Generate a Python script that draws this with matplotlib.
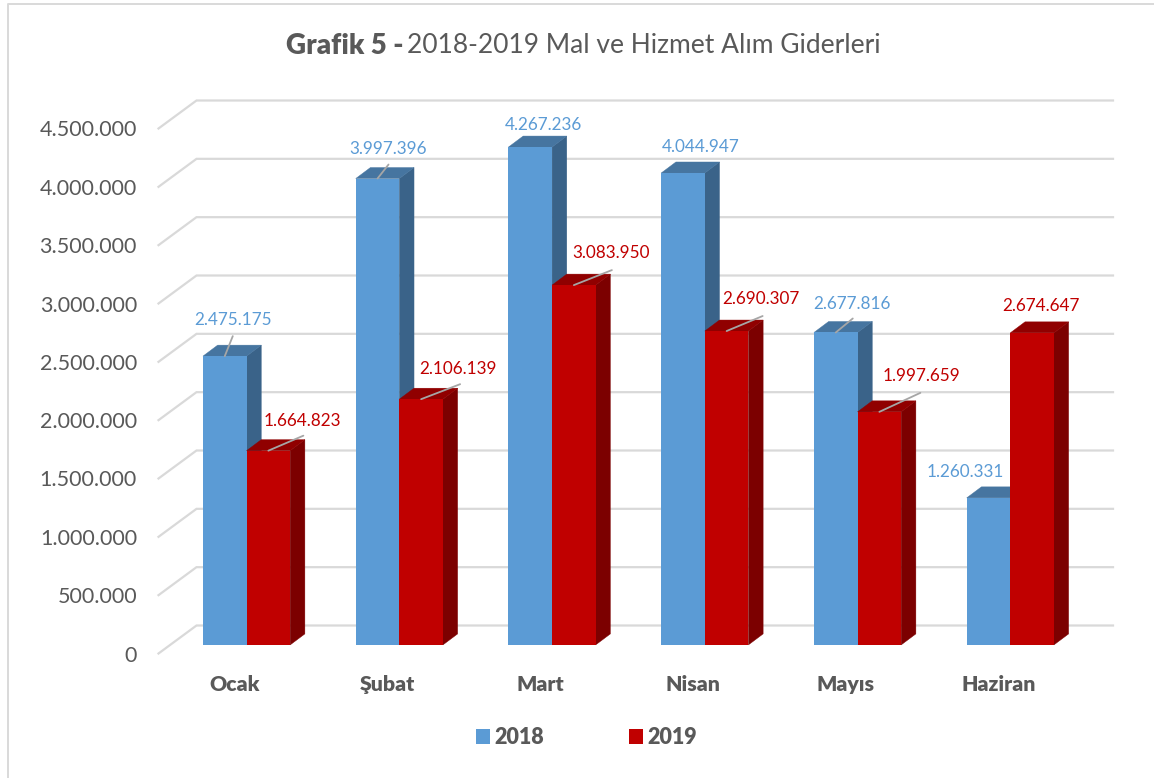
import matplotlib
matplotlib.use("Agg")
import matplotlib.pyplot as plt
from matplotlib.patches import Patch, Polygon

plt.rcParams["font.family"] = ["Lato", "DejaVu Sans"]

# --- Data ---
months = ["Ocak", "Şubat", "Mart", "Nisan", "Mayıs", "Haziran"]
values_2018 = [2475175, 3997396, 4267236, 4044947, 2677816, 1260331]
values_2019 = [1664823, 2106139, 3083950, 2690307, 1997659, 2674647]
y_ticks = [0, 500000, 1000000, 1500000, 2000000, 2500000, 3000000, 3500000, 4000000, 4500000]

# --- Layout (pixels of the 1154x778 picture) ---
W, H = 1154, 778
AX_L, AX_R, AX_TOP, AX_BOTTOM = 158.5, 1075.0, 128.5, 653.5
# label offset from the top centre of each bar
label_off_2018 = [(8, 36), (11, 30), (13, 22), (18, 26), (16, 28), (-23, 26)]
label_off_2019 = [(34, 30), (37, 30), (37, 32), (34, 32), (42, 36), (9, 27)]
# leader line end relative to the same point (None = no line)
leader_2018 = [(8, 20), (11, 14), None, None, (17, 14), None]
leader_2019 = [(35, 15), (39, 15), (38, 15), (36, 15), (41, 19), None]

GREY = "#595959"
GRID = "#D9D9D9"
BLUE, BLUE_TOP, BLUE_SIDE = "#5B9BD5", "#4675A0", "#3A6389"
RED, RED_TOP, RED_SIDE = "#C00000", "#900000", "#7C0000"
BLUE_TEXT, RED_TEXT = "#5B9BD5", "#C00000"

fig = plt.figure(figsize=(W / 100, H / 100), dpi=100)
ax = fig.add_axes([AX_L / W, 1 - AX_BOTTOM / H, (AX_R - AX_L) / W, (AX_BOTTOM - AX_TOP) / H])
ax.set_xlim(0, 6)
ax.set_ylim(0, 4500000)
ax.patch.set_alpha(0)
for s in ax.spines.values():
    s.set_visible(False)

# pixel -> data sizes
px_x = 6 / (AX_R - AX_L)
px_y = 4500000 / (AX_BOTTOM - AX_TOP)


def dx(p):
    return p * px_x


def dy(p):
    return p * px_y


# --- Axis text ---
ax.set_yticks(y_ticks)
ax.set_yticklabels([f"{v:,}".replace(",", ".") for v in y_ticks], fontsize=15.5, color=GREY)
ax.set_xticks([i + 0.5 for i in range(6)])
ax.set_xticklabels(months, fontsize=15.3, fontweight="heavy", color=GREY)
ax.tick_params(axis="y", length=0, pad=15.5)
ax.tick_params(axis="x", length=0, pad=15.7)

# --- Walls: slanted floor part plus back line ---
wall_dx, wall_dy = dx(38), dy(28)
for v in y_ticks:
    ax.plot([0, wall_dx, 6 + wall_dx], [v, v + wall_dy, v + wall_dy], color=GRID, lw=1.6,
            clip_on=False, zorder=1, solid_joinstyle="miter")

# --- Bars ---
bar_w = dx(43.6)
inset_x, inset_y = dx(11.7), dy(8.6)
depth_x, depth_y = dx(14.7), dy(11)


def draw_series(values, left_shift, face, top, side, z):
    for i, v in enumerate(values):
        x0 = i + 0.5 + inset_x + left_shift
        x1 = x0 + bar_w
        y0 = inset_y
        y1 = inset_y + v
        ax.add_patch(Polygon([(x1, y0), (x1 + depth_x, y0 + depth_y), (x1 + depth_x, y1 + depth_y), (x1, y1)],
                             facecolor=side, edgecolor=side, lw=0.3, clip_on=False, zorder=z))
        ax.add_patch(Polygon([(x0, y1), (x0 + depth_x, y1 + depth_y), (x1 + depth_x, y1 + depth_y), (x1, y1)],
                             facecolor=top, edgecolor=top, lw=0.3, clip_on=False, zorder=z))
        ax.bar(x0, v, width=bar_w, bottom=y0, align="edge", color=face, zorder=z + 0.1, clip_on=False)


draw_series(values_2018, -bar_w, BLUE, BLUE_TOP, BLUE_SIDE, 2)
draw_series(values_2019, 0, RED, RED_TOP, RED_SIDE, 3)


# --- Value labels and leader lines ---
def draw_labels(values, left_shift, offsets, leaders, color):
    for i, v in enumerate(values):
        x = i + 0.5 + inset_x + left_shift + bar_w / 2
        y = inset_y + v
        txt = f"{v:,}".replace(",", ".")
        ax.annotate(txt, xy=(x, y), xytext=offsets[i], textcoords="offset pixels", ha="center", va="center",
                    fontsize=12.3, color=color, zorder=6, annotation_clip=False)
        if leaders[i] is not None:
            ax.annotate("", xy=(x, y), xytext=leaders[i], textcoords="offset pixels", annotation_clip=False,
                        arrowprops=dict(arrowstyle="-", color="#A6A6A6", lw=1.3, shrinkA=0, shrinkB=0), zorder=5)


draw_labels(values_2018, -bar_w, label_off_2018, leader_2018, BLUE_TEXT)
draw_labels(values_2019, 0, label_off_2019, leader_2019, RED_TEXT)

# --- Title ---
fig.text(404 / W, 1 - 45.5 / H, "Grafik 5 -", ha="right", va="center", fontsize=20, fontweight="heavy", color=GREY)
fig.text(407 / W, 1 - 45.5 / H, "2018-2019 Mal ve Hizmet Alım Giderleri", ha="left", va="center", fontsize=19, color=GREY)

# --- Legend ---
handles = [Patch(facecolor=BLUE, label="2018"), Patch(facecolor=RED, label="2019")]
fig.legend(handles=handles, ncols=2, loc="center", bbox_to_anchor=(586.5 / W, 1 - 737.5 / H), frameon=False,
           prop={"size": 15.5, "weight": "heavy"}, labelcolor=GREY, handlelength=0.65, handleheight=0.65,
           handletextpad=0.23, columnspacing=3.9)

# --- Chart border (top and left only, the rest is cut by the picture) ---
fig.add_artist(plt.Line2D([8 / W, 8 / W, 1], [0, 1 - 4 / H, 1 - 4 / H], color=GRID, lw=1.4))

fig.savefig("out.png", dpi=100)
